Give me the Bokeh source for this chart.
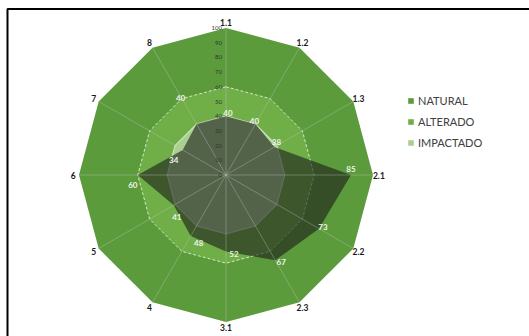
import numpy as np
from bokeh.plotting import figure
from bokeh.models import Range1d, Legend, LegendItem, ColumnDataSource
from bokeh.core.properties import value
from bokeh.embed import file_html
from bokeh.resources import INLINE

# ---- data ----
categories = ["1.1", "1.2", "1.3", "2.1", "2.2", "2.3", "3.1", "4", "5", "6", "7", "8"]
natural = [100] * 12
alterado = [60] * 12
impactado = [40] * 12
valores = [40, 40, 38, 85, 73, 67, 52, 48, 41, 60, 34, 40]
ticks = [0, 10, 20, 30, 40, 50, 60, 70, 80, 90, 100]

# ---- styling / layout ----
W, H = 529, 336
cx, cy = 225.5, 174.5
s = 1.47  # pixels per unit
n = len(categories)
ang = np.pi / 2 - np.arange(n) * 2 * np.pi / n

def xy(vals):
    v = np.asarray(vals, dtype=float)
    return list(v * np.cos(ang)), list(v * np.sin(ang))

p = figure(width=W, height=H, output_backend="svg", toolbar_location=None,
           x_range=Range1d(-cx / s, (W - cx) / s),
           y_range=Range1d(-(H - cy) / s, cy / s),
           x_axis_type=None, y_axis_type=None, min_border=0,
           outline_line_color=None, background_fill_color="white")
p.grid.visible = False

c_nat, c_alt, c_imp = "#5c9b3c", "#70ae47", "#a9d08e"

xn, yn = xy(natural)
r_nat = p.patch(xn, yn, fill_color=c_nat, line_color=None)
xa, ya = xy(alterado)
r_alt = p.patch(xa, ya, fill_color=c_alt, line_color=None)
p.line(xa + xa[:1], ya + ya[:1], line_color="#e8f2e0", line_width=1, line_dash="3 2", line_alpha=0.85)
xi, yi = xy(impactado)
r_imp = p.patch(xi, yi, fill_color=c_imp, line_color=None)
p.line(xi + xi[:1], yi + yi[:1], line_color="#d4e8c6", line_width=1.2, line_alpha=0.9)

xv, yv = xy(valores)
p.patch(xv, yv, fill_color="#1a1a1a", fill_alpha=0.6, line_color=None)

# spokes
sx, sy = xy(natural)
p.segment([0] * n, [0] * n, sx, sy, line_color="#c8c8c8", line_alpha=0.35, line_width=1)

# radial tick labels
p.text([0] * len(ticks), ticks, text=[str(t) for t in ticks], x_offset=-4,
       text_align="right", text_baseline="middle", text_font=value("Lato"),
       text_font_size="6px", text_color="#333333")

# category labels
lx, ly = xy([104] * n)
p.text(lx, ly, text=categories, text_align="center", text_baseline="middle",
       text_font=value("Lato"), text_font_size="8.5px", text_font_style="bold",
       text_color="#1a1a1a")

# data labels
dx_off = [2, -1, 2, 0, 4, 6, 8, 8, 3, -5, -9, -16]
dy_off = [-3, -3, -5, -6, -2, 2, 3, 7, 12, 10, 10, -26]
src = ColumnDataSource(dict(x=xv, y=yv, t=[str(v) for v in valores], xo=dx_off, yo=dy_off))
p.text("x", "y", text="t", x_offset="xo", y_offset="yo", source=src,
       text_align="center", text_baseline="middle", text_font=value("Lato"),
       text_font_size="8px", text_font_style="bold", text_color="#eef4ea")

# frame lines (top and left)
x0 = p.x_range.start + 7 / s
yt = p.y_range.end - 8.5 / s
p.line([x0, x0, p.x_range.end], [p.y_range.start, yt, yt], line_color="black", line_width=2)

legend = Legend(items=[LegendItem(label="NATURAL", renderers=[r_nat]),
                       LegendItem(label="ALTERADO", renderers=[r_alt]),
                       LegendItem(label="IMPACTADO", renderers=[r_imp])],
                location=(407, 187), glyph_width=7, glyph_height=7, label_standoff=4,
                label_text_font="Lato", label_text_font_size="11px",
                label_text_color="#404040", spacing=7, padding=0, margin=0,
                label_height=14, border_line_color=None, background_fill_alpha=0)
p.add_layout(legend)

open("out.html", "w").write(file_html(p, INLINE))
